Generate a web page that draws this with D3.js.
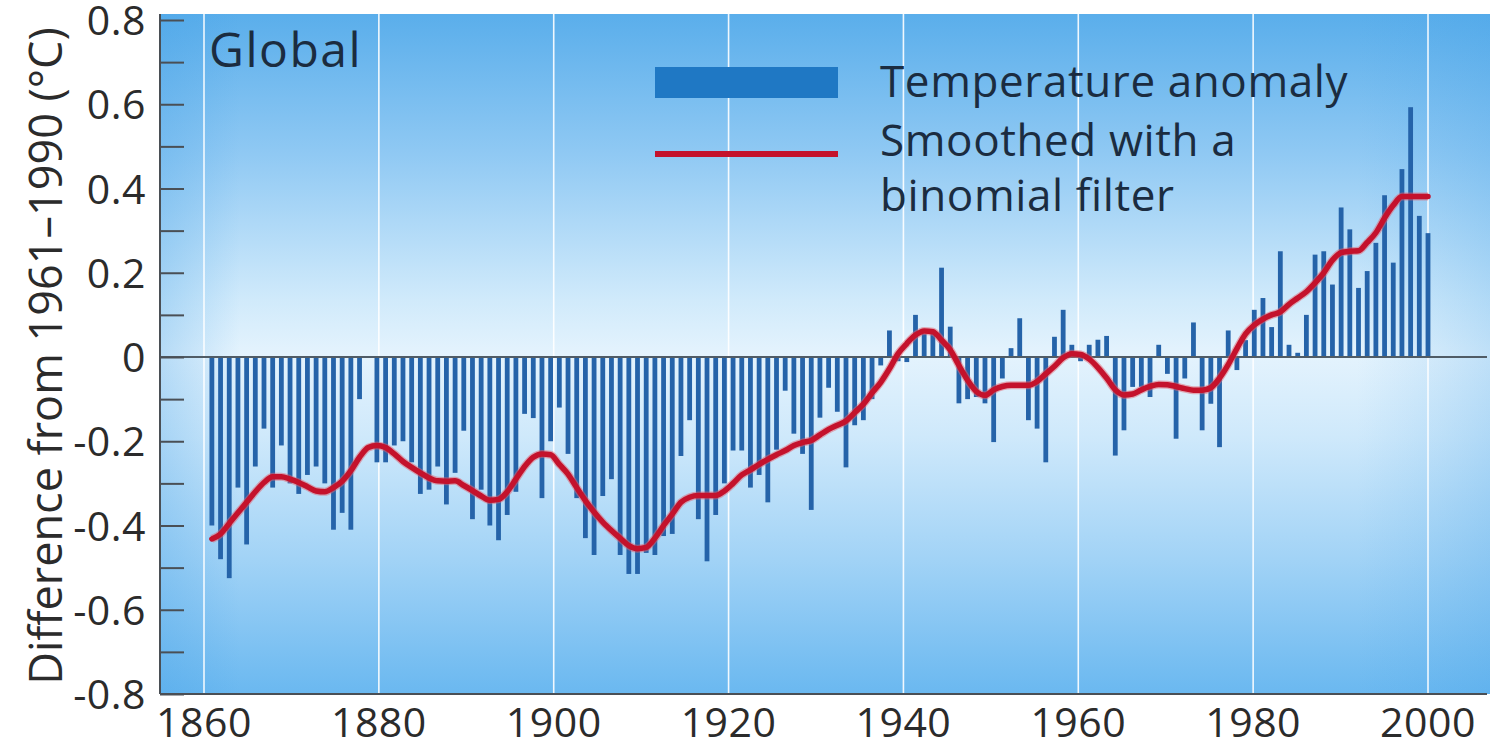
<!DOCTYPE html>
<html>
<head>
<meta charset="utf-8">
<script src="https://cdn.jsdelivr.net/npm/d3@7/dist/d3.min.js"></script>
<style>
  html, body { margin: 0; padding: 0; background: #ffffff; }
  svg { display: block; }
  text { font-family: "Open Sans", "Noto Sans", sans-serif; }
</style>
</head>
<body>
<svg id="chart" width="1490" height="749"></svg>
<script>
// Global annual temperature anomalies (°C, relative to 1961–1990), 1860–2000
const firstYear = 1860;
const lastYear = 2000;
const years = d3.range(firstYear, lastYear + 1);

const anomaly = [
  -0.40, -0.48, -0.525, -0.31, -0.445, -0.26, -0.17, -0.31, -0.21, -0.30,   // 1860s
  -0.325, -0.28, -0.26, -0.30, -0.41, -0.37, -0.41, -0.10, 0.00, -0.25,     // 1870s
  -0.25, -0.21, -0.20, -0.25, -0.325, -0.315, -0.26, -0.35, -0.275, -0.175, // 1880s
  -0.385, -0.315, -0.40, -0.435, -0.375, -0.32, -0.135, -0.145, -0.335, -0.20, // 1890s
  -0.12, -0.23, -0.335, -0.43, -0.47, -0.33, -0.29, -0.47, -0.515, -0.515,  // 1900s
  -0.465, -0.47, -0.425, -0.42, -0.235, -0.15, -0.385, -0.485, -0.375, -0.30, // 1910s
  -0.222, -0.222, -0.31, -0.28, -0.345, -0.22, -0.08, -0.182, -0.23, -0.363, // 1920s
  -0.144, -0.073, -0.13, -0.262, -0.162, -0.15, -0.10, -0.02, 0.063, -0.01, // 1930s
  -0.012, 0.10, 0.055, 0.06, 0.212, 0.072, -0.11, -0.10, -0.095, -0.11,     // 1940s
  -0.202, -0.051, 0.021, 0.092, -0.15, -0.17, -0.25, 0.048, 0.112, 0.029,   // 1950s
  -0.01, 0.029, 0.041, 0.05, -0.234, -0.174, -0.071, -0.071, -0.095, 0.029, // 1960s
  -0.04, -0.194, -0.051, 0.082, -0.174, -0.111, -0.214, 0.063, -0.031, 0.04, // 1970s
  0.112, 0.14, 0.071, 0.251, 0.029, 0.01, 0.10, 0.243, 0.251, 0.172,        // 1980s
  0.355, 0.303, 0.164, 0.204, 0.271, 0.384, 0.224, 0.446, 0.593, 0.335,     // 1990s
  0.294                                                                      // 2000
];

// Same series after a binomial smoothing filter
const smoothed = [
  -0.432, -0.42, -0.395, -0.37, -0.345, -0.32, -0.298, -0.284, -0.284, -0.29,
  -0.298, -0.308, -0.318, -0.32, -0.31, -0.295, -0.27, -0.238, -0.215, -0.21,
  -0.215, -0.23, -0.248, -0.262, -0.275, -0.287, -0.294, -0.295, -0.294, -0.305,
  -0.317, -0.33, -0.34, -0.338, -0.32, -0.29, -0.26, -0.238, -0.23, -0.232,
  -0.255, -0.278, -0.31, -0.341, -0.368, -0.392, -0.412, -0.43, -0.448, -0.455,
  -0.452, -0.43, -0.40, -0.373, -0.345, -0.333, -0.329, -0.329, -0.329, -0.318,
  -0.30, -0.28, -0.268, -0.255, -0.243, -0.232, -0.222, -0.21, -0.203, -0.198,
  -0.185, -0.172, -0.162, -0.152, -0.132, -0.112, -0.085, -0.06, -0.028, 0.008,
  0.032, 0.052, 0.062, 0.06, 0.04, 0.017, -0.02, -0.055, -0.082, -0.091,
  -0.078, -0.07, -0.067, -0.067, -0.067, -0.058, -0.04, -0.022, -0.002, 0.008,
  0.006, -0.005, -0.025, -0.05, -0.078, -0.09, -0.088, -0.078, -0.07, -0.065,
  -0.066, -0.07, -0.075, -0.079, -0.079, -0.073, -0.05, -0.018, 0.02, 0.055,
  0.076, 0.09, 0.10, 0.107, 0.125, 0.14, 0.155, 0.176, 0.20, 0.23,
  0.248, 0.251, 0.252, 0.272, 0.295, 0.33, 0.36, 0.381, 0.381, 0.381,
  0.381
];

const yearTicks = [1860, 1880, 1900, 1920, 1940, 1960, 1980, 2000];
const valueTicks = [-0.8, -0.6, -0.4, -0.2, 0, 0.2, 0.4, 0.6, 0.8];
const minorTicks = [-0.7, -0.5, -0.3, -0.1, 0.1, 0.3, 0.5, 0.7];

const title = "Global";
const yTitle = "Difference from 1961–1990 (°C)";
const legendBars = "Temperature anomaly";
const legendLine = ["Smoothed with a", "binomial filter"];

// ---- layout ----
const plot = { left: 160, right: 1490, top: 14, bottom: 694 };

const svg = d3.select("#chart");

const x = d3.scaleLinear().domain([1860, 2000]).range([204, 1428]);
const y = d3.scaleLinear().domain([-0.8, 0.8]).range([694, 20]);
// annual marks sit on their own evenly spaced slots along the time axis
const xBar = d3.scalePoint().domain(years).range([x(1860.9), x(2000)]);

// ---- background ----
const defs = svg.append("defs");
const vg = defs.append("linearGradient").attr("id", "bgV")
  .attr("x1", 0).attr("y1", 0).attr("x2", 0).attr("y2", 1);
[[0, "#5aaeeb"], [0.2, "#8ec8f3"], [0.42, "#d0eafb"], [0.5, "#e4f3fd"],
 [0.62, "#cfe9fb"], [0.8, "#a2d3f6"], [1, "#6ab8f0"]]
  .forEach(([o, c]) => vg.append("stop").attr("offset", o).attr("stop-color", c));

const hg = defs.append("linearGradient").attr("id", "bgH")
  .attr("x1", 0).attr("y1", 0).attr("x2", 1).attr("y2", 0);
[[0, 0.28], [0.035, 0.12], [0.06, 0], [0.9, 0], [0.96, 0.12], [1, 0.22]]
  .forEach(([o, a]) => hg.append("stop").attr("offset", o)
    .attr("stop-color", "#3f9ee6").attr("stop-opacity", a));

svg.append("rect")
  .attr("x", plot.left).attr("y", plot.top)
  .attr("width", plot.right - plot.left).attr("height", plot.bottom - plot.top)
  .attr("fill", "url(#bgV)");
svg.append("rect")
  .attr("x", plot.left).attr("y", plot.top)
  .attr("width", plot.right - plot.left).attr("height", plot.bottom - plot.top)
  .attr("fill", "url(#bgH)");

// ---- vertical grid lines ----
svg.append("g").selectAll("line").data(yearTicks).join("line")
  .attr("x1", d => x(d)).attr("x2", d => x(d))
  .attr("y1", plot.top).attr("y2", plot.bottom)
  .attr("stroke", "#ffffff").attr("stroke-width", 1.6).attr("stroke-opacity", 0.9);

// ---- bars ----
const barW = 4.8;
svg.append("g").selectAll("rect").data(years).join("rect")
  .attr("x", (d) => xBar(d) - barW / 2)
  .attr("y", (d, i) => y(Math.max(0, anomaly[i])))
  .attr("width", barW)
  .attr("height", (d, i) => Math.abs(y(anomaly[i]) - y(0)))
  .attr("fill", "#2563a9");

// ---- zero line ----
svg.append("line")
  .attr("x1", plot.left).attr("x2", 1487)
  .attr("y1", y(0)).attr("y2", y(0))
  .attr("stroke", "#505c66").attr("stroke-width", 1.8);

// ---- smoothed curve ----
const line = d3.line()
  .x((d, i) => xBar(years[i]))
  .y(d => y(d))
  .curve(d3.curveMonotoneX);
svg.append("path").datum(smoothed)
  .attr("d", line)
  .attr("fill", "none")
  .attr("stroke", "#e4606c").attr("stroke-opacity", 0.5)
  .attr("stroke-width", 8).attr("stroke-linejoin", "round");
svg.append("path").datum(smoothed)
  .attr("d", line)
  .attr("fill", "none")
  .attr("stroke", "#c4122c")
  .attr("stroke-width", 5.5).attr("stroke-linejoin", "round").attr("stroke-linecap", "round");

// ---- axes ----
const axisColor = "#4a4f55";
svg.append("line")
  .attr("x1", plot.left).attr("x2", plot.left)
  .attr("y1", plot.top).attr("y2", plot.bottom)
  .attr("stroke", axisColor).attr("stroke-width", 2);
svg.append("line")
  .attr("x1", plot.left).attr("x2", 1487)
  .attr("y1", plot.bottom).attr("y2", plot.bottom)
  .attr("stroke", axisColor).attr("stroke-width", 2);

const yAxis = d3.axisRight(y)
  .tickValues(valueTicks.concat(minorTicks))
  .tickSize(24)
  .tickFormat("");
const gy = svg.append("g").attr("transform", `translate(${plot.left},0)`).call(yAxis);
gy.select(".domain").remove();
gy.selectAll(".tick line").attr("stroke", axisColor).attr("stroke-width", 2);

svg.append("g").selectAll("text").data(valueTicks).join("text")
  .attr("x", 146).attr("y", d => y(d) + 15)
  .attr("text-anchor", "end")
  .attr("font-size", 41)
  .attr("letter-spacing", 0.5)
  .attr("fill", "#2b2b2b")
  .text(d => d === 0 ? "0" : d.toFixed(1));

svg.append("g").selectAll("text").data(yearTicks).join("text")
  .attr("x", d => x(d)).attr("y", 737)
  .attr("text-anchor", "middle")
  .attr("font-size", 41)
  .attr("letter-spacing", 0.5)
  .attr("fill", "#2b2b2b")
  .text(d => d);

svg.append("text")
  .attr("transform", `translate(62,${(plot.top + plot.bottom) / 2 + 2}) rotate(-90)`)
  .attr("text-anchor", "middle")
  .attr("font-size", 45)
  .attr("fill", "#2b2b2b")
  .text(yTitle);

// ---- title ----
svg.append("text")
  .attr("x", 209).attr("y", 67)
  .attr("font-size", 48)
  .attr("letter-spacing", 1.5)
  .attr("fill", "#1b2c40")
  .text(title);

// ---- legend ----
svg.append("rect")
  .attr("x", 655).attr("y", 67).attr("width", 183).attr("height", 31)
  .attr("fill", "#1f78c4");
svg.append("line")
  .attr("x1", 655).attr("x2", 838).attr("y1", 154).attr("y2", 154)
  .attr("stroke", "#c4122c").attr("stroke-width", 6);

svg.append("text")
  .attr("x", 880).attr("y", 97)
  .attr("font-size", 44).attr("letter-spacing", 0.6).attr("fill", "#1b2c40")
  .text(legendBars);
svg.append("g").selectAll("text").data(legendLine).join("text")
  .attr("x", 880).attr("y", (d, i) => 156 + i * 55)
  .attr("font-size", 44).attr("letter-spacing", 0.6).attr("fill", "#1b2c40")
  .text(d => d);
</script>
</body>
</html>
